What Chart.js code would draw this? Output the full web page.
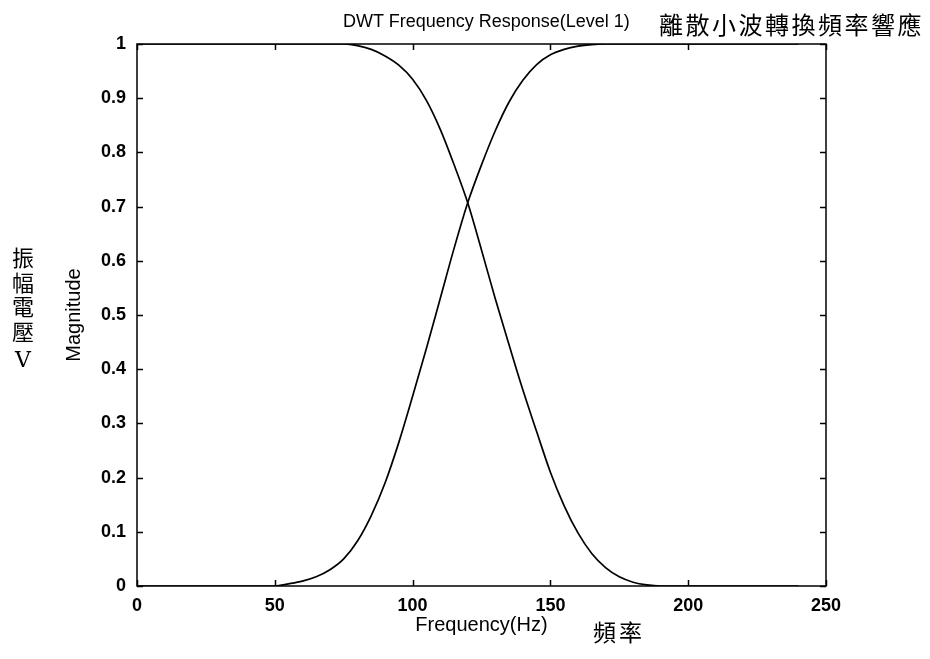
<!DOCTYPE html>
<html>
<head>
<meta charset="utf-8">
<script src="https://cdn.jsdelivr.net/npm/chart.js@4.4.0/dist/chart.umd.min.js"></script>
<style>
  body { margin: 0; background: #fff; }
  #wrap { position: relative; width: 930px; height: 659px; background: #fff; }
  #myChart { position: absolute; left: 0; top: 0; }
  .txt { position: absolute; color: #000; white-space: nowrap; line-height: 1; }
  #title { left: 343px; top: 11px; font: 18px 'Liberation Sans', Arial, sans-serif; }
  #zhTitle { left: 659px; top: 12px; font-size: 24px; letter-spacing: 2.5px; font-family: 'Noto Sans CJK TC', serif; }
  #zhY { left: 11px; top: 244px; width: 24px; font-size: 22px; line-height: 24.5px; text-align: center; font-family: 'Noto Sans CJK TC', serif; }
  #zhY .v { font-family: 'DejaVu Serif', 'Liberation Serif', serif; font-size: 22px; display: block; margin-top: 6px; }
  #zhX { left: 593px; top: 620px; font-size: 23px; letter-spacing: 3px; font-family: 'Noto Sans CJK TC', serif; }
</style>
</head>
<body>
<div id="wrap">
  <canvas id="myChart" width="930" height="659"></canvas>
  <div class="txt" id="title">DWT Frequency Response(Level 1)</div>
  <div class="txt" id="zhTitle">離散小波轉換頻率響應</div>
  <div class="txt" id="zhY">振<br>幅<br>電<br>壓<span class="v">V</span></div>
  <div class="txt" id="zhX">頻率</div>
</div>
<script>
// frequency (Hz) sample points
const freqs = [0, 5, 10, 15, 20, 25, 30, 35, 40, 45,
    50, 55, 60, 65, 70, 75, 80, 85, 90, 95,
    100, 105, 110, 115, 120, 125, 130, 135, 140, 145,
    150, 155, 160, 165, 170, 175, 180, 185, 190, 195,
    200, 205, 210, 215, 220, 225, 230, 235, 240];

// low pass (falling) curve
const lowPass = [1, 1, 1, 1, 1, 1, 1, 1, 1, 1,
    1, 1, 1, 1, 1, 1, 0.997, 0.99, 0.978, 0.961,
    0.935, 0.896, 0.843, 0.778, 0.707, 0.62, 0.53, 0.445, 0.362, 0.285,
    0.21, 0.148, 0.098, 0.06, 0.034, 0.017, 0.007, 0.002, 0, 0,
    0, 0, 0, 0, 0, 0, 0, 0, 0];

// high pass (rising) curve
const highPass = [0, 0, 0, 0, 0, 0, 0, 0, 0, 0,
    0, 0.004, 0.009, 0.017, 0.03, 0.05, 0.083, 0.13, 0.19, 0.265,
    0.35, 0.438, 0.53, 0.622, 0.707, 0.777, 0.84, 0.893, 0.933, 0.962,
    0.98, 0.99, 0.996, 0.999, 1, 1, 1, 1, 1, 1,
    1, 1, 1, 1, 1, 1, 1, 1, 1];

const xTicks = [0, 50, 100, 150, 200, 250];
const yTicks = [0, 0.1, 0.2, 0.3, 0.4, 0.5, 0.6, 0.7, 0.8, 0.9, 1];
const yTickLabels = ['0', '0.1', '0.2', '0.3', '0.4', '0.5', '0.6', '0.7', '0.8', '0.9', '1'];

function toPoints(ys) {
    return freqs.map((f, i) => ({ x: f, y: ys[i] }));
}

// box round the plot with ticks pointing in, like matlab
const frameTicks = {
    id: 'frameTicks',
    afterDraw(chart) {
        const ctx = chart.ctx;
        const a = chart.chartArea;
        const xs = chart.scales.x, ys = chart.scales.y;
        const len = 6;
        ctx.save();
        ctx.strokeStyle = '#000';
        ctx.lineWidth = 1.5;
        ctx.strokeRect(a.left, a.top, a.right - a.left, a.bottom - a.top);
        ctx.beginPath();
        xTicks.forEach(v => {
            const px = Math.round(xs.getPixelForValue(v)) + 0.5;
            ctx.moveTo(px, a.bottom); ctx.lineTo(px, a.bottom - len);
            ctx.moveTo(px, a.top); ctx.lineTo(px, a.top + len);
        });
        yTicks.forEach(v => {
            const py = Math.round(ys.getPixelForValue(v)) + 0.5;
            ctx.moveTo(a.left, py); ctx.lineTo(a.left + len, py);
            ctx.moveTo(a.right, py); ctx.lineTo(a.right - len, py);
        });
        ctx.stroke();
        ctx.restore();
    }
};

Chart.defaults.color = '#000';
Chart.defaults.font.family = "'Liberation Sans', Arial, sans-serif";

let myChart = document.getElementById('myChart').getContext('2d');

let dwtGraph = new Chart(myChart, {
    type: 'line',
    data: {
        datasets: [
            {
                label: 'Low pass',
                data: toPoints(lowPass),
                borderColor: '#000',
                borderWidth: 1.7,
                pointRadius: 0,
                fill: false,
                cubicInterpolationMode: 'monotone'
            },
            {
                label: 'High pass',
                data: toPoints(highPass),
                borderColor: '#000',
                borderWidth: 1.7,
                pointRadius: 0,
                fill: false,
                cubicInterpolationMode: 'monotone'
            }
        ]
    },
    options: {
        responsive: false,
        animation: false,
        devicePixelRatio: 1,
        layout: { padding: { top: 44, right: 104, bottom: 0, left: 57 } },
        plugins: {
            legend: { display: false },
            title: { display: false },
            tooltip: { enabled: false }
        },
        scales: {
            x: {
                type: 'linear',
                min: 0,
                max: 250,
                afterBuildTicks: s => { s.ticks = xTicks.map(v => ({ value: v })); },
                afterFit: s => { s.height = 73; },
                grid: { display: false, drawTicks: false },
                border: { display: false },
                ticks: {
                    padding: 9,
                    maxRotation: 0,
                    font: { size: 18, weight: 'bold' },
                    callback: v => String(v)
                },
                title: {
                    display: true,
                    text: 'Frequency(Hz)',
                    font: { size: 20 },
                    padding: { top: 0, bottom: 22 }
                }
            },
            y: {
                min: 0,
                max: 1,
                afterBuildTicks: s => { s.ticks = yTicks.map(v => ({ value: v })); },
                afterFit: s => { s.width = 80; },
                grid: { display: false, drawTicks: false },
                border: { display: false },
                ticks: {
                    padding: 11,
                    font: { size: 18, weight: 'bold' },
                    callback: (v, i) => yTickLabels[i]
                },
                title: {
                    display: true,
                    text: 'Magnitude',
                    font: { size: 20 },
                    padding: { top: 5, bottom: 0 }
                }
            }
        }
    },
    plugins: [frameTicks]
});
</script>
</body>
</html>
